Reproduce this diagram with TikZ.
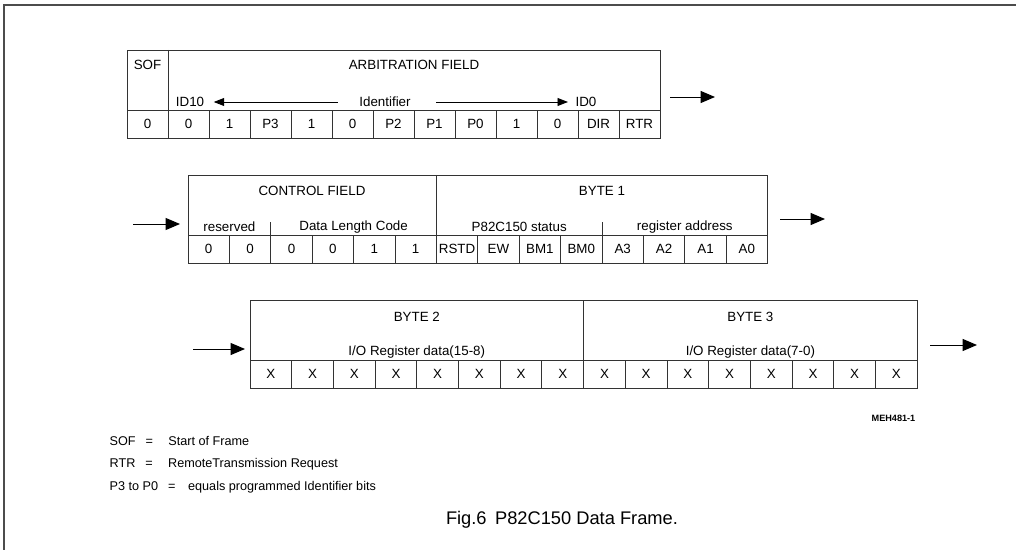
\documentclass[tikz,border=0pt]{standalone}
\usepackage{fontspec}
\setmainfont{Liberation Sans}
\usetikzlibrary{arrows.meta,positioning}

\begin{document}
\begin{tikzpicture}[
  x=0.025cm, y=-0.025cm,
  every node/.style={font=\fontsize{9.5}{11}\selectfont, inner sep=1pt},
  bit/.style={draw=black!80, line width=0.6pt, minimum height=0.7cm, inner sep=0pt},
  field/.style={draw=black!80, line width=0.6pt},
  flow/.style={-{Triangle[length=0.36cm, width=0.3cm]}, line width=0.7pt},
  idarrow/.style={-{Triangle[length=0.26cm, width=0.2cm]}, line width=0.6pt},
  legend/.style={anchor=west, font=\fontsize{9}{11}\selectfont}
]
\useasboundingbox (0,0) rectangle (1016,550);

% outer frame (top and left only)
\draw[black!70, line width=1pt] (4,550) -- (4,5) -- (1016,5);

% Reihe 1: SOF + Arbitration Field
\draw[field] (127,50) rectangle (660,110);
\draw[field] (168,50) -- (168,110);
\node (sof) at (147.5,65) {SOF};
\node (arbt) at (414,65) {ARBITRATION FIELD};
\node (id10) at (190,102) {ID10};
\node (ident) at (385,102) {Identifier};
\node (id0) at (586,102) {ID0};
\draw[idarrow, shorten <=0.5cm, shorten >=0.2cm] (ident.west) -- (id10.east);
\draw[idarrow, shorten <=0.6cm, shorten >=0.15cm] (ident.east) -- (id0.west);
\foreach \v [count=\i] in {0,0,1,P3,1,0,P2,P1,P0,1,0,DIR,RTR}
  \node[bit, minimum width=1.025cm] (arb\i) at ({127+41*(\i-0.5)},124) {\v};

\coordinate (r1a) at (670,97);
\coordinate (r1b) at (715,97);
\draw[flow] (r1a) -- (r1b);

% Reihe 2: Control Field + Byte 1
\draw[field] (188,175) rectangle (767.6,235);
\draw[field] (436.4,175) -- (436.4,235);
\draw[field] (270.8,222) -- (270.8,235);
\draw[field] (602,222) -- (602,235);
\node (ctrl) at (312,191) {CONTROL FIELD};
\node (byte1) at (602,191) {BYTE 1};
\node (resv) at (229.4,227) {reserved};
\node (dlc) at (353.6,227) {Data Length Code};
\node (stat) at (519.2,227) {P82C150 status};
\node (radr) at (684.8,227) {register address};
\foreach \v [count=\i] in {0,0,0,0,1,1,RSTD,EW,BM1,BM0,A3,A2,A1,A0}
  \node[bit, minimum width=1.035cm] (ctl\i) at ({188+41.4*(\i-0.5)},249) {\v};

\coordinate (r2a) at (133,224);
\coordinate (r2b) at (180,224);
\coordinate (r2c) at (780,219);
\coordinate (r2d) at (825,219);
\draw[flow] (r2a) -- (r2b);
\draw[flow] (r2c) -- (r2d);

% Reihe 3: Byte 2 + Byte 3
\draw[field] (250,300) rectangle (917.2,360);
\draw[field] (583.6,300) -- (583.6,360);
\node (byte2) at (416.8,317) {BYTE 2};
\node (byte3) at (750.4,317) {BYTE 3};
\node (io2) at (416.8,352) {I/O Register data(15-8)};
\node (io3) at (750.4,352) {I/O Register data(7-0)};
\foreach \i in {1,...,16}
  \node[bit, minimum width=1.0425cm] (dat\i) at ({250+41.7*(\i-0.5)},374) {X};

\coordinate (r3a) at (193,349);
\coordinate (r3b) at (245,349);
\coordinate (r3c) at (930,345);
\coordinate (r3d) at (977,345);
\draw[flow] (r3a) -- (r3b);
\draw[flow] (r3c) -- (r3d);

\node[anchor=east, font=\fontsize{6.5}{8}\selectfont\bfseries] (meh) at (917,418) {MEH481-1};

% Legende
\node[legend] (lsof) at (108,441) {SOF\hspace{7pt}=\hspace{11pt}Start of Frame};
\node[legend] (lrtr) at (108,464) {RTR\hspace{7pt}=\hspace{11pt}RemoteTransmission Request};
\node[legend] (lpid) at (108,487) {P3 to P0\hspace{7pt}=\hspace{9pt}equals programmed Identifier bits};

\node[font=\fontsize{13}{15}\selectfont] (cap) at (562,520) {Fig.6\hspace{6pt}P82C150 Data Frame.};

\end{tikzpicture}
\end{document}
